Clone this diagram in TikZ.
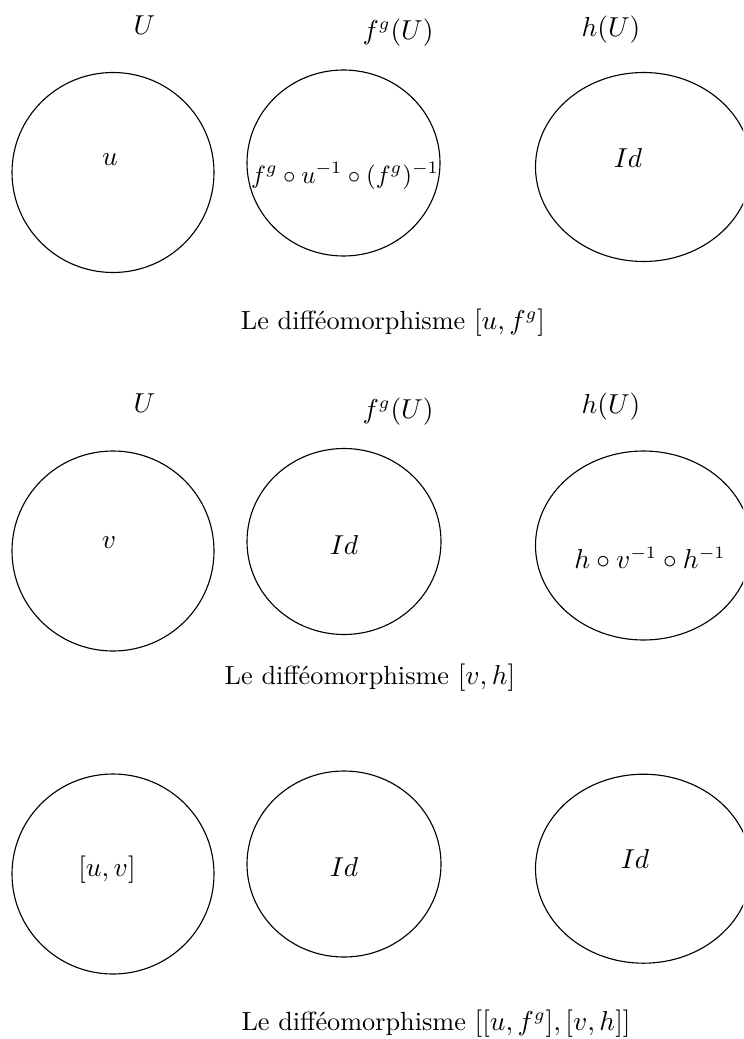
\documentclass[tikz,border=0pt]{standalone}
\begin{document}
\begin{tikzpicture}[x=0.4pt,y=-0.4pt,
  region/.style={draw=black,line width=0.45pt},
  lab/.style={inner sep=0pt,anchor=center,font=\fontsize{10.5}{12.6}\selectfont}]
\useasboundingbox (0,0) rectangle (743,1039);
\clip (0,0) rectangle (743,1039);
% top row
\draw[region] (113,172.5) ellipse [x radius=101,y radius=100];
\draw[region] (343.5,163) ellipse [x radius=96.5,y radius=93];
\draw[region] (643.5,167) ellipse [x radius=108,y radius=94.5];
\node[lab] (U1) at (144.5,25) {$U$};
\node[lab] (F1) at (398,33) {$f^g(U)$};
\node[lab] (H1) at (611,30) {$h(U)$};
\node[lab] (a1) at (110,160) {$u$};
\node[lab,font=\fontsize{10}{12}\selectfont] (b1) at (345,176) {$f^g\circ u^{-1}\circ (f^g)^{-1}$};
\node[lab] (c1) at (628,158) {$Id$};
\node[lab] (cap1) at (393,323) {Le difféomorphisme $[u,f^g]$};
% middle row
\draw[region] (113,551) ellipse [x radius=101,y radius=100];
\draw[region] (344,541.5) ellipse [x radius=97,y radius=93];
\draw[region] (643.5,545.5) ellipse [x radius=108,y radius=94.5];
\node[lab] (U2) at (144.5,403) {$U$};
\node[lab] (F2) at (398,412) {$f^g(U)$};
\node[lab] (H2) at (611,407) {$h(U)$};
\node[lab] (a2) at (109,543) {$v$};
\node[lab] (b2) at (344,545) {$Id$};
\node[lab] (c2) at (650,558) {$h\circ v^{-1}\circ h^{-1}$};
\node[lab] (cap2) at (370,678) {Le difféomorphisme $[v,h]$};
% bottom row
\draw[region] (113,874) ellipse [x radius=101,y radius=100];
\draw[region] (344,864) ellipse [x radius=97,y radius=93];
\draw[region] (643.5,868.7) ellipse [x radius=108,y radius=94.5];
\node[lab] (a3) at (107,870) {$[u,v]$};
\node[lab] (b3) at (344,866.5) {$Id$};
\node[lab] (c3) at (635,859) {$Id$};
\node[lab] (cap3) at (436,1024) {Le difféomorphisme $[[u,f^g],[v,h]]$};
\end{tikzpicture}
\end{document}
